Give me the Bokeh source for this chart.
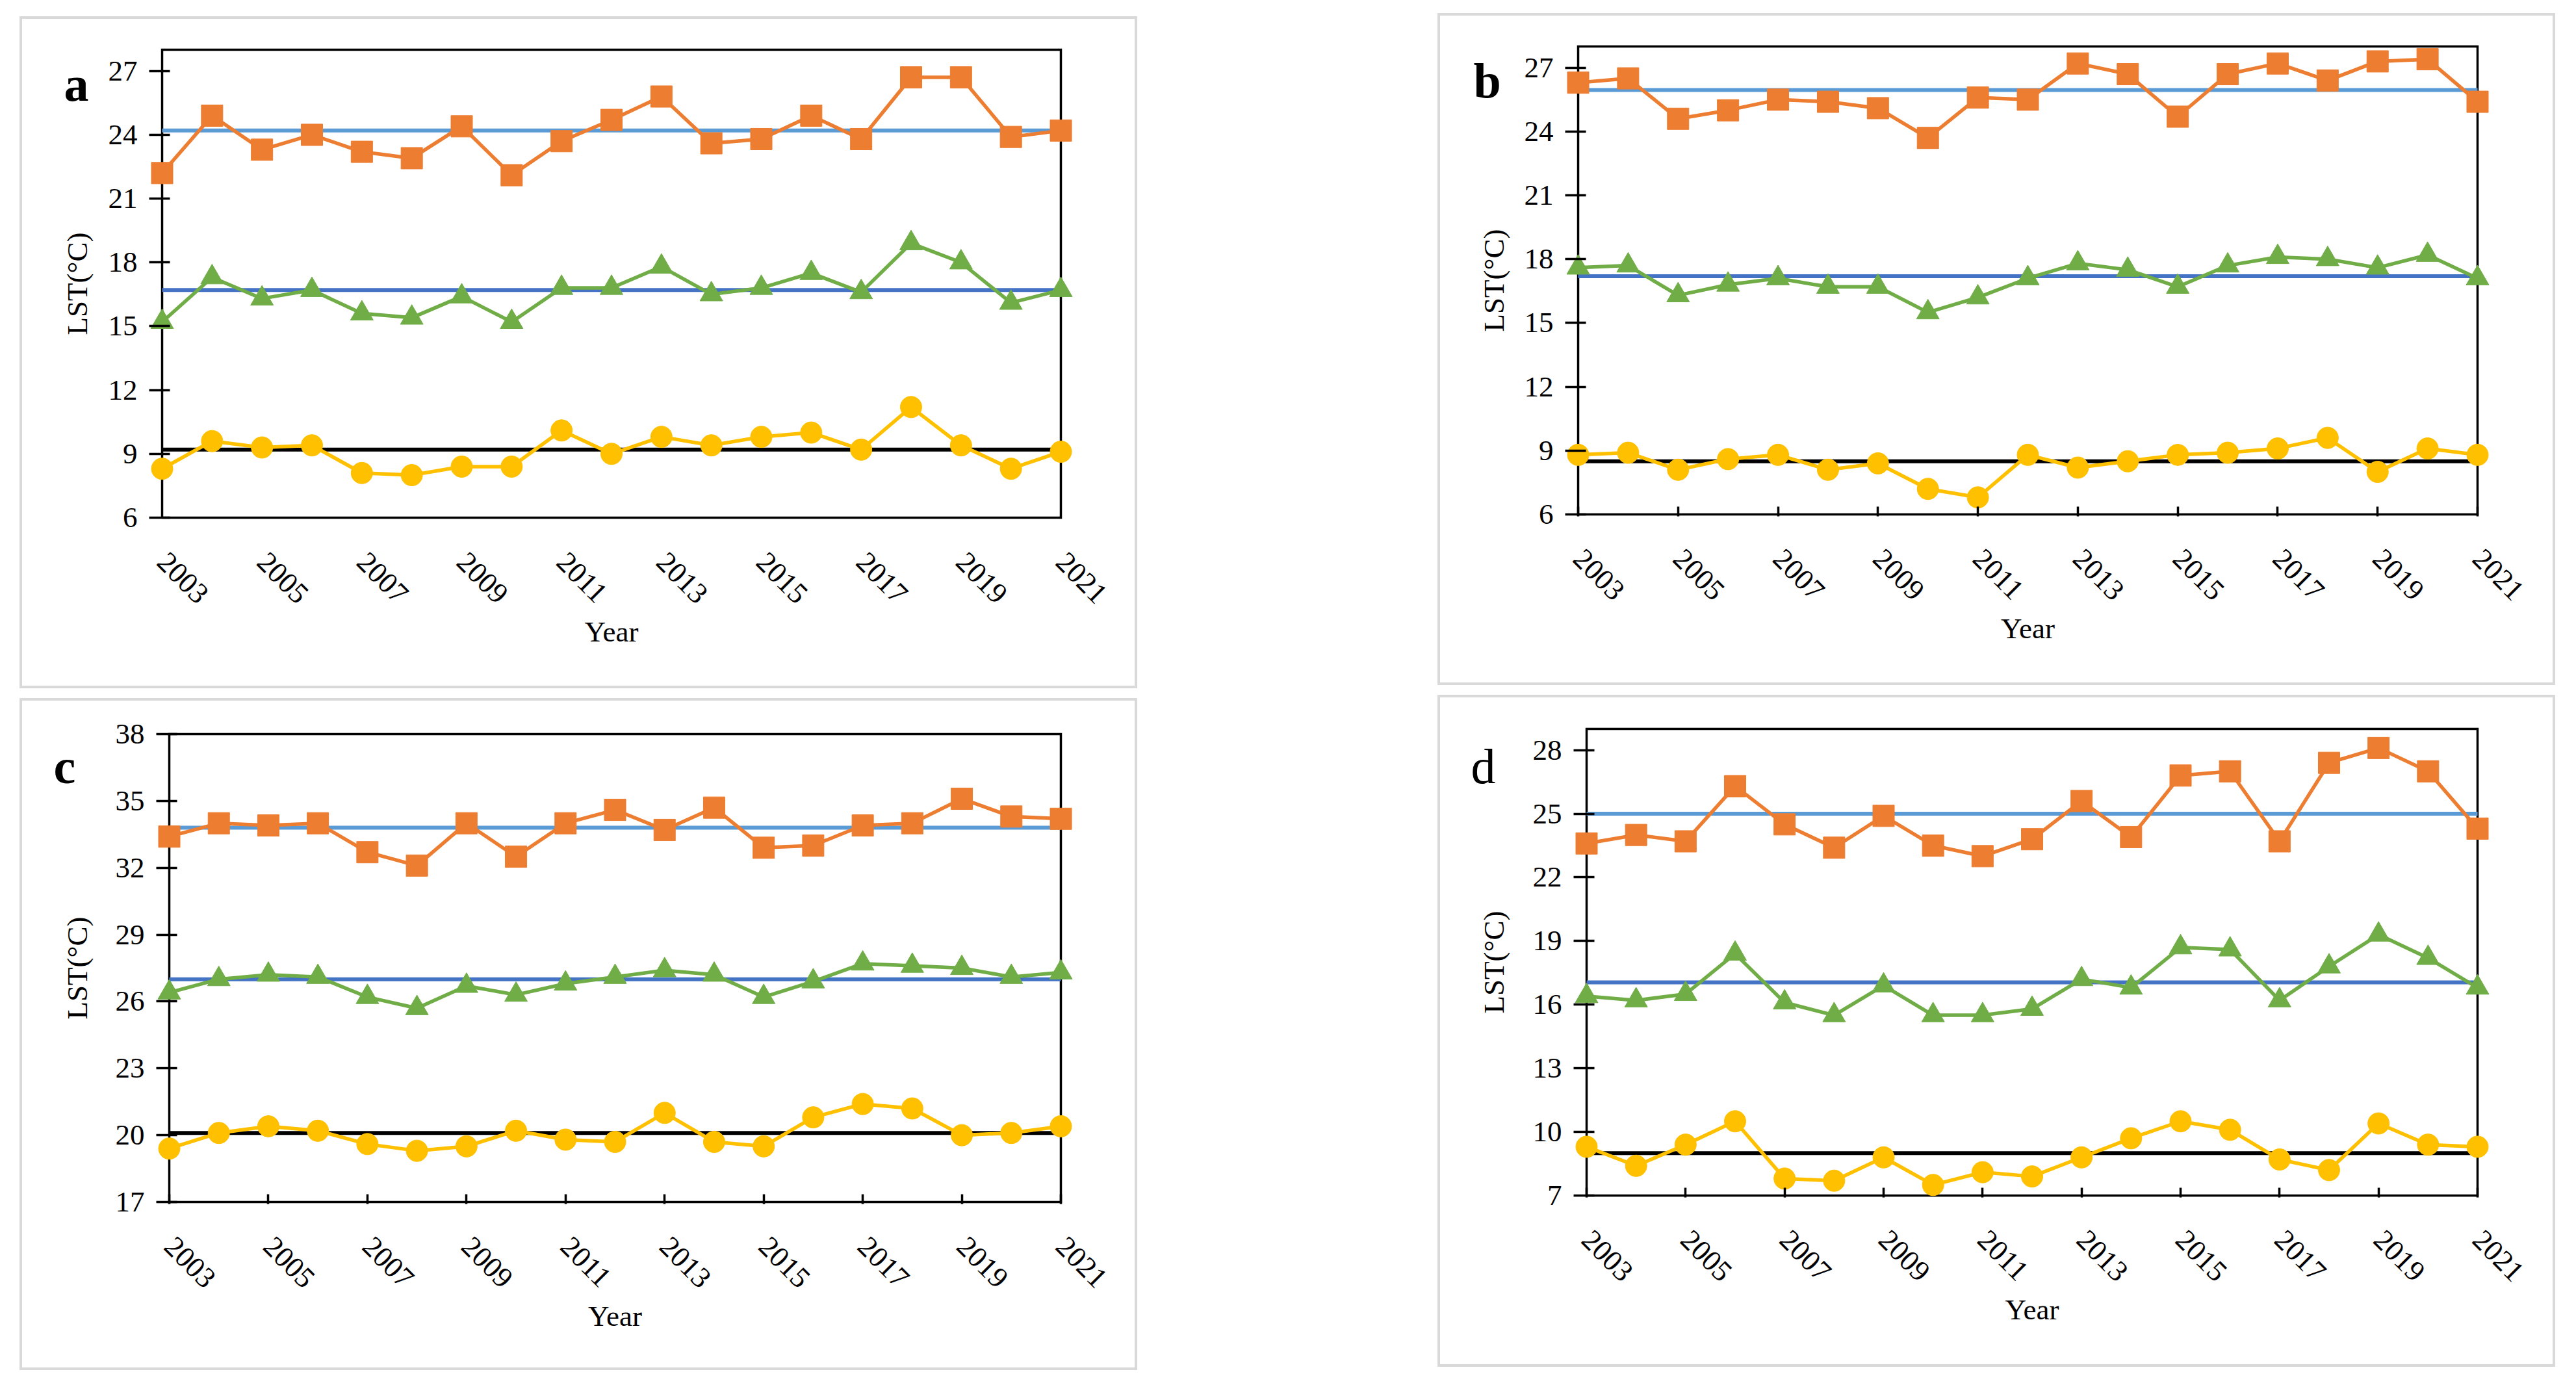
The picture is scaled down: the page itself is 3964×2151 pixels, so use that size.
import math
from bokeh.plotting import figure
from bokeh.models import Range1d, FixedTicker, Spacer
from bokeh.layouts import row, column
from bokeh.core.properties import value
from bokeh.embed import file_html
from bokeh.resources import INLINE

years = list(range(2003, 2022))
x_tick_years = years[::2]

# ---- data (LST, degC) ----
a_high = [22.2, 24.9, 23.3, 24.0, 23.2, 22.9, 24.4, 22.1, 23.7, 24.7, 25.8, 23.6, 23.8, 24.9, 23.8, 26.7, 26.7, 23.9, 24.2]
a_mid = [15.2, 17.3, 16.3, 16.7, 15.6, 15.4, 16.4, 15.2, 16.8, 16.8, 17.8, 16.5, 16.8, 17.5, 16.6, 18.9, 18.0, 16.1, 16.7]
a_low = [8.3, 9.6, 9.3, 9.4, 8.1, 8.0, 8.4, 8.4, 10.1, 9.0, 9.8, 9.4, 9.8, 10.0, 9.2, 11.2, 9.4, 8.3, 9.1]
a_means = [24.2, 16.7, 9.2]

b_high = [26.3, 26.5, 24.6, 25.0, 25.5, 25.4, 25.1, 23.7, 25.6, 25.5, 27.2, 26.7, 24.7, 26.7, 27.2, 26.4, 27.3, 27.4, 25.4]
b_mid = [17.6, 17.7, 16.3, 16.8, 17.1, 16.7, 16.7, 15.5, 16.2, 17.1, 17.8, 17.5, 16.7, 17.7, 18.1, 18.0, 17.6, 18.2, 17.1]
b_low = [8.8, 8.9, 8.1, 8.6, 8.8, 8.1, 8.4, 7.2, 6.8, 8.8, 8.2, 8.5, 8.8, 8.9, 9.1, 9.6, 8.0, 9.1, 8.8]
b_means = [25.95, 17.2, 8.5]

c_high = [33.4, 34.0, 33.9, 34.0, 32.7, 32.1, 34.0, 32.5, 34.0, 34.6, 33.7, 34.7, 32.9, 33.0, 33.9, 34.0, 35.1, 34.3, 34.2]
c_mid = [26.4, 27.0, 27.2, 27.1, 26.2, 25.7, 26.7, 26.3, 26.8, 27.1, 27.4, 27.2, 26.2, 26.9, 27.7, 27.6, 27.5, 27.1, 27.3]
c_low = [19.4, 20.1, 20.4, 20.2, 19.6, 19.3, 19.5, 20.2, 19.8, 19.7, 21.0, 19.7, 19.5, 20.8, 21.4, 21.2, 20.0, 20.1, 20.4]
c_means = [33.8, 27.0, 20.1]

d_high = [23.6, 24.0, 23.7, 26.3, 24.5, 23.4, 24.9, 23.5, 23.0, 23.8, 25.6, 23.9, 26.8, 27.0, 23.7, 27.4, 28.1, 27.0, 24.3]
d_mid = [16.4, 16.2, 16.5, 18.4, 16.1, 15.5, 16.9, 15.5, 15.5, 15.8, 17.2, 16.8, 18.7, 18.6, 16.2, 17.8, 19.3, 18.2, 16.8]
d_low = [9.3, 8.4, 9.4, 10.5, 7.8, 7.7, 8.8, 7.5, 8.1, 7.9, 8.8, 9.7, 10.5, 10.1, 8.7, 8.2, 10.4, 9.4, 9.3]
d_means = [25.0, 17.05, 9.0]

a_yticks = [6, 9, 12, 15, 18, 21, 24, 27]
b_yticks = [6, 9, 12, 15, 18, 21, 24, 27]
c_yticks = [17, 20, 23, 26, 29, 32, 35, 38]
d_yticks = [7, 10, 13, 16, 19, 22, 25, 28]

Y_TITLE = "LST(°C)"
X_TITLE = "Year"

# ---- styles ----
ORANGE = "#ED7D31"
GREEN = "#70AD47"
YELLOW = "#FFC000"
LBLUE = "#5B9BD5"
DBLUE = "#4472C4"
BLACK = "#000000"
FONT = "Liberation Serif"
FS = "45px"
PAD_PX = 20   # horizontal room so edge markers are not clipped
PAD_PY = 3    # vertical room so the frame line is not clipped
NW = 120      # width of the strip holding the panel letter and the y title


def make_panel(letter, bold, high, mid, low, means, yticks, ymin, ymax,
               left, right, top, bottom, w, h, xticks_in,
               let_x, let_dy, ytitle_x):
    mw = w - NW
    frame_w = mw - (left - NW - PAD_PX) - (right - PAD_PX)
    inner_w = frame_w - 2 * PAD_PX
    pad_x = PAD_PX * (years[-1] - years[0]) / inner_w
    frame_h = h - (top - PAD_PY) - (bottom - PAD_PY)
    inner_h = frame_h - 2 * PAD_PY
    px_per_unit = inner_h / (ymax - ymin)
    pad_y = PAD_PY / px_per_unit
    yr = Range1d(ymin - pad_y, ymax + pad_y)
    p = figure(width=mw, height=h, output_backend="svg", toolbar_location=None,
               x_range=Range1d(years[0] - pad_x, years[-1] + pad_x),
               y_range=yr,
               min_border_left=left - NW - PAD_PX, min_border_right=right - PAD_PX,
               min_border_top=top - PAD_PY, min_border_bottom=bottom - PAD_PY)
    p.outline_line_color = None
    p.border_fill_color = None
    p.background_fill_color = None
    p.xgrid.visible = False
    p.ygrid.visible = False

    # plot-area frame
    x0, x1 = years[0], years[-1]
    p.line([x0, x1, x1, x0, x0], [ymin, ymin, ymax, ymax, ymin],
           line_color=BLACK, line_width=3.5, line_join="miter")

    # mean lines
    for m, col in zip(means, [LBLUE, DBLUE, BLACK]):
        p.line([x0, x1], [m, m], line_color=col, line_width=6)

    # series
    p.line(years, high, line_color=ORANGE, line_width=5.5)
    p.scatter(years, high, marker="square", size=33, fill_color=ORANGE, line_color=ORANGE)
    p.line(years, mid, line_color=GREEN, line_width=5.5)
    p.scatter(years, mid, marker="triangle", size=35, fill_color=GREEN, line_color=GREEN)
    p.line(years, low, line_color=YELLOW, line_width=5.5)
    p.scatter(years, low, marker="circle", size=33, fill_color=YELLOW, line_color=YELLOW)

    # x axis
    xa = p.xaxis[0]
    xa.ticker = FixedTicker(ticks=x_tick_years)
    xa.axis_line_color = None
    xa.minor_tick_line_color = None
    xa.major_tick_in = (12 + PAD_PY) if xticks_in else 0
    xa.major_tick_out = 0
    xa.major_tick_line_width = 3.5
    xa.major_tick_line_color = BLACK if xticks_in else None
    xa.major_label_orientation = -math.pi / 4
    xa.major_label_standoff = 58
    xa.major_label_text_font = FONT
    xa.major_label_text_font_size = FS
    xa.major_label_text_color = BLACK
    xa.axis_label = X_TITLE
    xa.axis_label_text_font = FONT
    xa.axis_label_text_font_size = FS
    xa.axis_label_text_font_style = "normal"
    xa.axis_label_text_color = BLACK
    xa.axis_label_standoff = 2

    # y axis
    ya = p.yaxis[0]
    ya.ticker = FixedTicker(ticks=yticks)
    ya.axis_line_color = None
    ya.minor_tick_line_color = None
    ya.major_tick_in = PAD_PX + 12
    ya.major_tick_out = 0
    ya.major_tick_line_width = 3.5
    ya.major_tick_line_color = BLACK
    ya.major_label_standoff = 18
    ya.major_label_text_font = FONT
    ya.major_label_text_font_size = FS
    ya.major_label_text_color = BLACK

    # strip on the left (same vertical frame): panel letter and y title
    s = figure(width=NW, height=h, output_backend="svg", toolbar_location=None,
               x_range=Range1d(0, NW), y_range=yr,
               min_border_left=0, min_border_right=0,
               min_border_top=top - PAD_PY, min_border_bottom=bottom - PAD_PY,
               x_axis_location=None, y_axis_location=None)
    s.outline_line_color = None
    s.border_fill_color = None
    s.background_fill_color = None
    s.xgrid.visible = False
    s.ygrid.visible = False
    s.text(x=[let_x], y=[ymax - let_dy / px_per_unit], text=[letter],
           text_font=value(FONT), text_font_size="76px",
           text_font_style="bold" if bold else "normal",
           text_baseline="alphabetic", text_align="left", text_color=BLACK)
    s.text(x=[ytitle_x], y=[(ymin + ymax) / 2], text=[Y_TITLE],
           angle=math.pi / 2, text_font=value(FONT), text_font_size=FS,
           text_baseline="middle", text_align="center", text_color=BLACK)

    return row(s, p, styles={"outline": "4px solid #d9d9d9", "outline-offset": "-4px"})


pa = make_panel("a", True, a_high, a_mid, a_low, a_means, a_yticks, 6, 28,
                219, 118, 51, 263, 1720, 1034, False, 68, 52, 88)
pb = make_panel("b", True, b_high, b_mid, b_low, b_means, b_yticks, 6, 28,
                216, 120, 51, 263, 1720, 1034, True, 55, 52, 86)
pc = make_panel("c", True, c_high, c_mid, c_low, c_means, c_yticks, 17, 38,
                230, 118, 55, 259, 1720, 1034, True, 52, 49, 88)
pd = make_panel("d", False, d_high, d_mid, d_low, d_means, d_yticks, 7, 29,
                229, 120, 52, 264, 1720, 1034, True, 51, 57, 86)

top_row = row(Spacer(width=30), column(Spacer(height=5), pa), Spacer(width=462), pb)
bot_row = row(Spacer(width=30), column(Spacer(height=5), pc), Spacer(width=462), pd)
layout = column(Spacer(height=20), top_row, Spacer(height=10), bot_row)

open("out.html", "w").write(file_html(layout, INLINE))
